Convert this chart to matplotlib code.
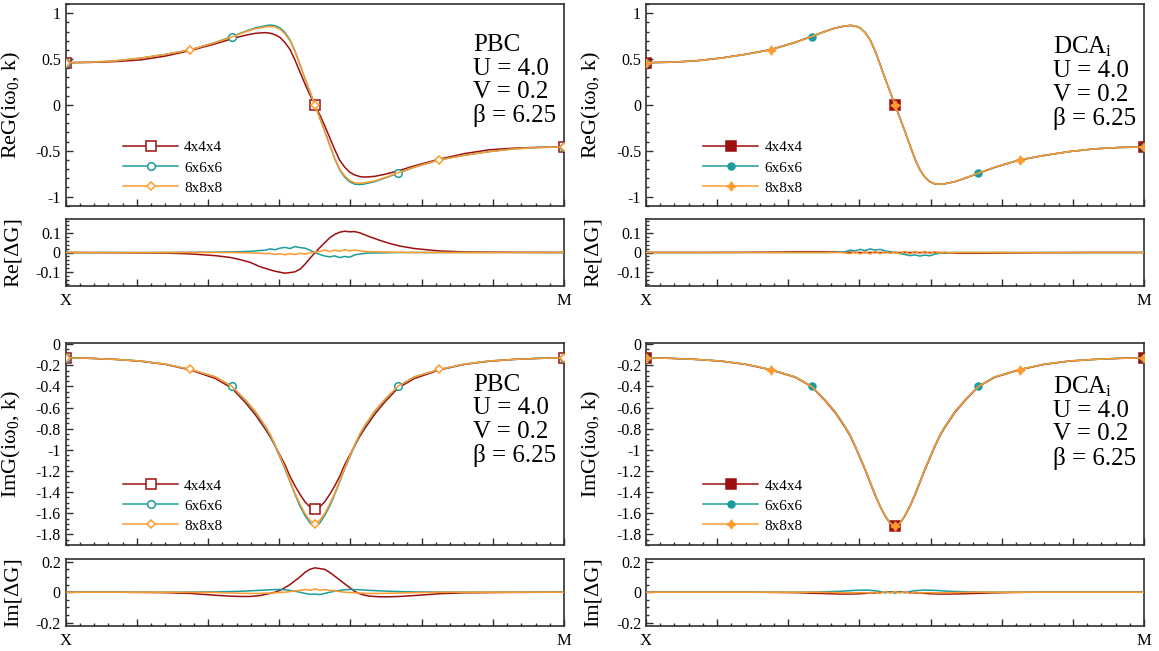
import numpy as np
import matplotlib
matplotlib.use("Agg")
import matplotlib.pyplot as plt
from matplotlib.ticker import FixedLocator, MultipleLocator, FuncFormatter

plt.rcParams['font.family'] = ['Liberation Serif', 'DejaVu Serif']
plt.rcParams['mathtext.fontset'] = 'custom'
plt.rcParams['mathtext.rm'] = 'Liberation Serif'
plt.rcParams['mathtext.default'] = 'regular'
plt.rcParams['axes.unicode_minus'] = False

# ---- data: path X -> M, t in [0, 1] ----
labels = ['4x4x4', '6x6x6', '8x8x8']
kpts = [[0, 0.5, 1], [0, 0.333, 0.667, 1], [0, 0.25, 0.5, 0.75, 1]]

t_main = [0, .05, .1, .15, .2, .25, .3, .333, .36, .38, .40, .41, .42, .43, .44, .45,
          .46, .47, .48, .49, .50, .51, .52, .53, .54, .55, .56, .57, .58, .59, .60,
          .62, .64, .667, .70, .75, .80, .85, .90, .95, 1.0]

# Re G, PBC
re_pbc_4 = [.46, .463, .472, .49, .532, .592, .665, .72, .758, .78, .788, .782, .765, .735, .68, .605,
            .49, .36, .23, .11, 0, -.11, -.23, -.36, -.49, -.605, -.68, -.735, -.765, -.782, -.788,
            -.78, -.758, -.72, -.665, -.592, -.532, -.49, -.472, -.463, -.46]
re_pbc_6 = [.46, .465, .48, .51, .55, .60, .68, .745, .80, .838, .862, .87, .865, .84, .79, .71,
            .59, .44, .29, .145, 0, -.145, -.29, -.44, -.59, -.71, -.79, -.84, -.865, -.87, -.862,
            -.838, -.80, -.745, -.68, -.60, -.55, -.51, -.48, -.465, -.46]
re_pbc_8 = [.46, .465, .48, .51, .55, .60, .678, .74, .795, .83, .85, .855, .85, .825, .775, .70,
            .585, .44, .29, .145, 0, -.145, -.29, -.44, -.585, -.70, -.775, -.825, -.85, -.855, -.85,
            -.83, -.795, -.74, -.678, -.60, -.55, -.51, -.48, -.465, -.46]
# Re G, DCA_i
re_dca_4 = [.46, .465, .48, .51, .552, .602, .683, .748, .802, .838, .86, .866, .862, .838, .788, .708,
            .588, .44, .29, .145, 0, -.145, -.29, -.44, -.588, -.708, -.788, -.838, -.862, -.866, -.86,
            -.838, -.802, -.748, -.683, -.602, -.552, -.51, -.48, -.465, -.46]
re_dca_6 = [.46, .465, .48, .51, .55, .60, .68, .745, .80, .838, .862, .866, .862, .84, .79, .712,
            .592, .442, .29, .145, 0, -.145, -.29, -.442, -.592, -.712, -.79, -.84, -.862, -.866, -.862,
            -.838, -.80, -.745, -.68, -.60, -.55, -.51, -.48, -.465, -.46]
re_dca_8 = [.46, .465, .48, .51, .55, .60, .68, .745, .80, .838, .861, .866, .861, .838, .789, .709,
            .59, .44, .29, .145, 0, -.145, -.29, -.44, -.59, -.709, -.789, -.838, -.861, -.866, -.861,
            -.838, -.80, -.745, -.68, -.60, -.55, -.51, -.48, -.465, -.46]

# Im G, PBC
im_pbc_4 = [-.13, -.135, -.145, -.162, -.192, -.245, -.325, -.415, -.55, -.665, -.80, -.875, -.96, -1.05, -1.14, -1.25,
            -1.34, -1.42, -1.49, -1.54, -1.56, -1.54, -1.49, -1.42, -1.34, -1.25, -1.14, -1.05, -.96, -.875, -.80,
            -.665, -.55, -.415, -.325, -.245, -.192, -.162, -.145, -.135, -.13]
im_pbc_6 = [-.13, -.135, -.145, -.16, -.19, -.24, -.31, -.40, -.53, -.64, -.78, -.86, -.96, -1.07, -1.18, -1.30,
            -1.42, -1.53, -1.62, -1.69, -1.73, -1.69, -1.62, -1.53, -1.42, -1.30, -1.18, -1.07, -.96, -.86, -.78,
            -.64, -.53, -.40, -.31, -.24, -.19, -.16, -.145, -.135, -.13]
im_pbc_8 = [-.13, -.135, -.145, -.16, -.19, -.24, -.31, -.398, -.525, -.632, -.77, -.85, -.95, -1.06, -1.17, -1.29,
            -1.41, -1.51, -1.60, -1.665, -1.70, -1.665, -1.60, -1.51, -1.41, -1.29, -1.17, -1.06, -.95, -.85, -.77,
            -.632, -.525, -.398, -.31, -.24, -.19, -.16, -.145, -.135, -.13]
# Im G, DCA_i
im_dca_4 = [-.13, -.135, -.145, -.161, -.192, -.243, -.315, -.405, -.538, -.65, -.79, -.87, -.97, -1.08, -1.19, -1.31,
            -1.43, -1.535, -1.625, -1.695, -1.725, -1.695, -1.625, -1.535, -1.43, -1.31, -1.19, -1.08, -.97, -.87, -.79,
            -.65, -.538, -.405, -.315, -.243, -.192, -.161, -.145, -.135, -.13]
im_dca_6 = [-.13, -.135, -.145, -.16, -.19, -.24, -.31, -.40, -.53, -.64, -.78, -.86, -.96, -1.07, -1.18, -1.30,
            -1.42, -1.53, -1.62, -1.69, -1.725, -1.69, -1.62, -1.53, -1.42, -1.30, -1.18, -1.07, -.96, -.86, -.78,
            -.64, -.53, -.40, -.31, -.24, -.19, -.16, -.145, -.135, -.13]
im_dca_8 = [-.13, -.135, -.145, -.16, -.19, -.241, -.312, -.402, -.533, -.644, -.784, -.864, -.964, -1.074, -1.184, -1.304,
            -1.424, -1.532, -1.622, -1.692, -1.725, -1.692, -1.622, -1.532, -1.424, -1.304, -1.184, -1.074, -.964, -.864, -.784,
            -.644, -.533, -.402, -.312, -.241, -.19, -.16, -.145, -.135, -.13]

t_diff = [0, .1, .2, .25, .3, .33, .35, .37, .39, .40, .41, .42, .43, .44, .45, .46, .47, .48, .49, .50,
          .51, .52, .53, .54, .55, .56, .57, .58, .59, .60, .61, .63, .65, .67, .70, .75, .80, .90, 1.0]

dre_pbc_4 = [0, -.001, -.003, -.007, -.016, -.025, -.036, -.05, -.072, -.08, -.088, -.095, -.1, -.105, -.102, -.098, -.085, -.06, -.03, -.002,
             .025, .05, .075, .092, .103, .108, .105, .106, .1, .09, .08, .062, .046, .033, .02, .008, .003, .001, 0]
dre_pbc_6 = [0, 0, 0, .001, .002, .003, .004, .006, .01, .012, .018, .014, .022, .026, .02, .03, .025, .022, .012, 0,
             -.01, -.018, -.022, -.017, -.026, -.02, -.024, -.012, -.008, -.004, -.003, -.002, -.001, 0, 0, 0, 0, 0, 0]
dre_pbc_8 = [0, 0, 0, 0, 0, 0, -.001, -.002, -.004, -.006, -.004, -.01, -.006, -.012, -.006, -.01, -.004, -.008, -.002, .002,
             .006, .012, .005, .012, .006, .014, .008, .012, .008, .006, .005, .003, .002, .001, 0, 0, 0, 0, 0]
dre_dca_4 = [0, 0, .001, .002, .004, .004, .004, .003, .002, .001, .001, 0, 0, 0, 0, 0, 0, 0, 0, 0,
             0, 0, 0, 0, 0, 0, 0, 0, 0, -.001, -.002, -.004, -.004, -.004, -.003, -.002, -.001, 0, 0]
dre_dca_6 = [0, 0, 0, 0, 0, 0, 0, 0, .002, .004, .012, .008, .016, .01, .018, .012, .016, .008, .004, 0,
             -.006, -.01, -.016, -.012, -.018, -.013, -.017, -.008, -.004, -.002, 0, 0, 0, 0, 0, 0, 0, 0, 0]
dre_dca_8 = [0, 0, 0, 0, 0, 0, 0, 0, 0, -.002, -.006, .004, -.008, .004, -.008, .006, -.006, .004, -.004, .002,
             -.006, .006, -.008, .006, -.006, .006, -.006, .005, -.004, .003, -.001, 0, 0, 0, 0, 0, 0, 0, 0]

dim_pbc_4 = [0, 0, -.003, -.008, -.02, -.026, -.028, -.028, -.022, -.015, -.008, 0, .012, .03, .05, .075, .1, .13, .15, .16,
             .155, .15, .13, .105, .08, .055, .03, .005, -.01, -.02, -.026, -.03, -.03, -.028, -.022, -.01, -.004, -.001, 0]
dim_pbc_6 = [0, 0, 0, .001, .002, .004, .006, .009, .012, .014, .016, .017, .018, .016, .012, .006, 0, -.008, -.014, -.012,
             -.016, -.008, 0, .006, .012, .016, .018, .017, .016, .014, .012, .009, .006, .004, .002, .001, 0, 0, 0]
dim_pbc_8 = [0, 0, 0, -.001, -.002, -.005, -.007, -.008, -.008, -.007, -.006, -.004, -.002, 0, .004, .008, .012, .018, .012, .022,
             .012, .018, .012, .008, .004, 0, -.002, -.004, -.006, -.007, -.008, -.008, -.007, -.005, -.003, -.001, 0, 0, 0]
dim_dca_4 = [0, 0, 0, -.001, -.003, -.006, -.008, -.01, -.012, -.012, -.012, -.011, -.01, -.008, -.006, -.004, -.002, 0, .002, .002,
             .002, 0, -.002, -.004, -.006, -.008, -.01, -.011, -.012, -.012, -.012, -.011, -.009, -.007, -.004, -.001, 0, 0, 0]
dim_dca_6 = [0, 0, 0, 0, 0, .001, .002, .004, .006, .008, .01, .012, .013, .014, .012, .01, .004, -.004, .002, -.006,
             .002, -.004, .004, .01, .012, .014, .013, .012, .01, .008, .006, .004, .002, .001, 0, 0, 0, 0, 0]
dim_dca_8 = [0, 0, 0, 0, 0, 0, -.001, -.002, -.003, -.004, -.004, -.004, -.003, -.003, -.006, .002, -.008, .004, -.006, .004,
             -.006, .004, -.008, .002, -.006, -.003, -.003, -.004, -.004, -.004, -.003, -.002, -.001, 0, 0, 0, 0, 0, 0]

colors = ['#9c1010', '#1c9c9c', '#ff9a2e']
markers = ['s', 'o', 'D']
msizes = [6.5, 5.5, 4.5]
markers_dca = ['s', 'o', (4, 1, 0)]
msizes_dca = [7, 5, 6.5]

# ---- layout (pixels -> figure fractions) ----
W, H = 1159, 651
cols = [(65.7, 564.0), (646.0, 1144.0)]
rows = [((4, 205.7), (219, 286)), ((342.7, 545), (558.7, 625.7))]

fig = plt.figure(figsize=(W / 100, H / 100), dpi=100)


def rect(xr, yr):
    return [xr[0] / W, 1 - yr[1] / H, (xr[1] - xr[0]) / W, (yr[1] - yr[0]) / H]


def style_axis(ax, ymaj, ymin, xlabels):
    for s in ax.spines.values():
        s.set_linewidth(1.2)
        s.set_color('#303030')
    ax.set_xlim(0, 1)
    ax.xaxis.set_major_locator(FixedLocator(np.arange(8) / 7))
    ax.xaxis.set_minor_locator(FixedLocator(np.arange(36) / 35))
    ax.yaxis.set_major_locator(MultipleLocator(ymaj))
    ax.yaxis.set_minor_locator(MultipleLocator(ymin))
    ax.yaxis.set_major_formatter(FuncFormatter(lambda v, p: '%g' % round(v, 6)))
    ax.tick_params(which='both', direction='in', top=False, right=False,
                   labelsize=11.5, color='#303030', width=1.0)
    ax.tick_params(which='major', length=5)
    ax.tick_params(which='minor', length=2.5)
    if xlabels:
        ax.set_xticklabels(['X', '', '', '', '', '', '', 'M'], fontsize=12)
        ax.tick_params(axis='x', pad=5)
    else:
        ax.set_xticklabels([])


panels = [
    (0, 0, 'PBC', 'ReG(iω$_0$, k)', 'Re[ΔG]', (re_pbc_4, re_pbc_6, re_pbc_8),
     (dre_pbc_4, dre_pbc_6, dre_pbc_8), (-1.1, 1.1), 0.5, 0.1, (-0.17, 0.17), 0.1, 0.02, False),
    (0, 1, 'DCA$_i$', 'ReG(iω$_0$, k)', 'Re[ΔG]', (re_dca_4, re_dca_6, re_dca_8),
     (dre_dca_4, dre_dca_6, dre_dca_8), (-1.1, 1.1), 0.5, 0.1, (-0.17, 0.17), 0.1, 0.02, True),
    (1, 0, 'PBC', 'ImG(iω$_0$, k)', 'Im[ΔG]', (im_pbc_4, im_pbc_6, im_pbc_8),
     (dim_pbc_4, dim_pbc_6, dim_pbc_8), (-1.9, 0.013), 0.2, 0.05, (-0.22, 0.22), 0.2, 0.05, False),
    (1, 1, 'DCA$_i$', 'ImG(iω$_0$, k)', 'Im[ΔG]', (im_dca_4, im_dca_6, im_dca_8),
     (dim_dca_4, dim_dca_6, dim_dca_8), (-1.9, 0.013), 0.2, 0.05, (-0.22, 0.22), 0.2, 0.05, True),
]

tm = np.array(t_main)
for r, c, name, ylab, dlab, series, diffs, ylim, ymaj, ymin, dylim, dmaj, dmin, filled in panels:
    main_rect, diff_rect = rows[r]
    ax = fig.add_axes(rect(cols[c], main_rect))
    axd = fig.add_axes(rect(cols[c], diff_rect))
    mk = markers_dca if filled else markers
    ms = msizes_dca if filled else msizes
    for i in range(3):
        idx = [int(np.argmin(np.abs(tm - k))) for k in kpts[i]]
        ax.plot(t_main, series[i], color=colors[i], lw=1.1, marker=mk[i], ms=ms[i],
                markevery=idx, mec=colors[i], mew=1.1,
                mfc=colors[i] if filled else 'white', label=labels[i], zorder=2 + i)
        axd.plot(t_diff, diffs[i], color=colors[i], lw=1.1, zorder=2 + i)
    ax.set_ylim(*ylim)
    axd.set_ylim(*dylim)
    style_axis(ax, ymaj, ymin, False)
    style_axis(axd, dmaj, dmin, True)
    ax.set_ylabel(ylab, fontsize=16)
    axd.set_ylabel(dlab, fontsize=16)
    ax.yaxis.set_label_coords(-0.086, 0.5)
    axd.yaxis.set_label_coords(-0.086, 0.5)
    ax.text(0.818, 0.85 if r == 0 else 0.845, name + '\nU = 4.0\nV = 0.2\nβ = 6.25',
            transform=ax.transAxes, fontsize=18, va='top', ha='left', linespacing=1.08)
    ax.legend(loc='upper left', bbox_to_anchor=(0.115, 0.322 if r == 0 else 0.327),
              frameon=False, borderpad=0, borderaxespad=0, handlelength=3.6,
              handletextpad=0.4, labelspacing=0.42, fontsize=11)

fig.savefig('out.png', dpi=100)
